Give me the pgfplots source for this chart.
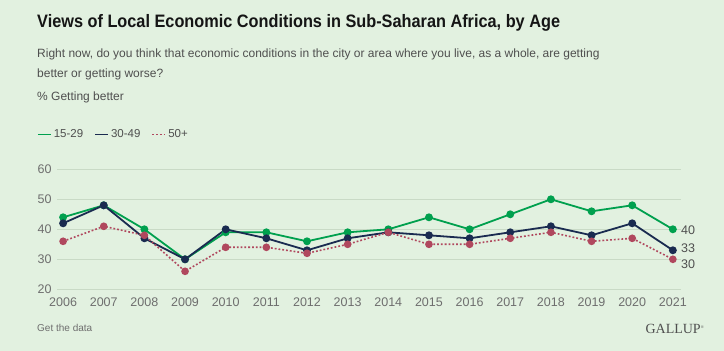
\documentclass[border=0pt]{standalone}
\usepackage{pgfplots}
\pgfplotsset{compat=1.18}
\usepackage{fontspec}
\setmainfont{Liberation Sans}
\newfontfamily\titlefont[FakeStretch=0.905]{Liberation Sans}
\newfontfamily\seriffont{Liberation Serif}
\definecolor{bg}{HTML}{E2F1E0}
\definecolor{gridc}{HTML}{C9DAC6}
\definecolor{cgreen}{HTML}{00A04E}
\definecolor{cnavy}{HTML}{1A2B50}
\definecolor{cred}{HTML}{B0485E}
\definecolor{ctick}{HTML}{6E6E6E}
\definecolor{csub}{HTML}{4F4F4F}
\definecolor{ctitle}{HTML}{151515}

\pgfplotstableread{
year a b c
2006 44 42 36
2007 48 48 41
2008 40 37 38
2009 30 30 26
2010 39 40 34
2011 39 37 34
2012 36 33 32
2013 39 37 35
2014 40 39 39
2015 44 38 35
2016 40 37 35
2017 45 39 37
2018 50 41 39
2019 46 38 36
2020 48 42 37
2021 40 33 30
}\datatable

\begin{document}
\begin{tikzpicture}
\fill[bg] (0pt,0pt) rectangle (724pt,351pt);
% title and subtitle
\node[anchor=base west, inner sep=0, text=ctitle] at (37pt,323.3pt) {\titlefont\bfseries\fontsize{18}{21}\selectfont Views of Local Economic Conditions in Sub-Saharan Africa, by Age};
\node[anchor=base west, inner sep=0, text=csub] at (37pt,293pt) {\fontsize{12}{14}\selectfont Right now, do you think that economic conditions in the city or area where you live, as a whole, are getting};
\node[anchor=base west, inner sep=0, text=csub] at (37pt,273.5pt) {\fontsize{12}{14}\selectfont better or getting worse?};
\node[anchor=base west, inner sep=0, text=csub] at (37pt,250pt) {\fontsize{12}{14}\selectfont \% Getting better};
% footer
\node[anchor=base west, inner sep=0, text=ctick] at (37pt,19.3pt) {\fontsize{10}{12}\selectfont Get the data};
\node[anchor=base east, inner sep=0, text=csub] at (704pt,17.7pt) {\seriffont\fontsize{14}{16}\selectfont GALLUP\raisebox{5pt}{\fontsize{4}{4}\selectfont\textregistered}};

\begin{axis}[
  at={(57pt,61.7pt)}, anchor=south west,
  scale only axis, width=624pt, height=120pt,
  xmin=2005.85, xmax=2021.2, ymin=20, ymax=60,
  xtick={2006,2007,...,2021}, ytick={20,30,40,50,60},
  axis line style={draw=none},
  major tick length=0pt,
  ymajorgrids, grid style={gridc, line width=0.8pt},
  tick label style={font=\fontsize{12.5}{14}\selectfont, text=ctick},
  /pgf/number format/assume math mode=true,
  x tick label style={/pgf/number format/1000 sep={}, yshift=-4.5pt},
  y tick label style={xshift=-2pt},
  clip=false,
  legend columns=3,
  legend style={at={(axis description cs:-0.032,1.29)}, anchor=west,
    draw=none, fill=none, inner sep=0pt, outer sep=0pt,
    font=\fontsize{11.5}{13}\selectfont, text=csub,
    /tikz/every even column/.append style={column sep=9pt}},
  legend image code/.code={\draw[#1, mark=none, line width=1.8pt] (0pt,0pt) -- (13pt,0pt);},
  every axis plot/.append style={line width=1.8pt, mark=*, mark size=3pt},
]
\addplot[cgreen, mark options={fill=cgreen, draw=cgreen}] table[x=year, y=a] {\datatable};
\addlegendentry{15-29}
\addplot[cnavy, mark options={fill=cnavy, draw=cnavy}] table[x=year, y=b] {\datatable};
\addlegendentry{30-49}
\addplot[cred, dotted, line width=1.6pt, mark options={solid, fill=cred, draw=cred}] table[x=year, y=c] {\datatable};
\addlegendentry{50+}
\node[anchor=west, text=csub, font=\fontsize{12.5}{14}\selectfont, inner sep=0] at (axis cs:2021,40) [xshift=8pt, yshift=-1pt] {40};
\node[anchor=west, text=csub, font=\fontsize{12.5}{14}\selectfont, inner sep=0] at (axis cs:2021,33) [xshift=8pt, yshift=1.7pt] {33};
\node[anchor=west, text=csub, font=\fontsize{12.5}{14}\selectfont, inner sep=0] at (axis cs:2021,30) [xshift=8pt, yshift=-4.7pt] {30};
\end{axis}
\end{tikzpicture}
\end{document}
